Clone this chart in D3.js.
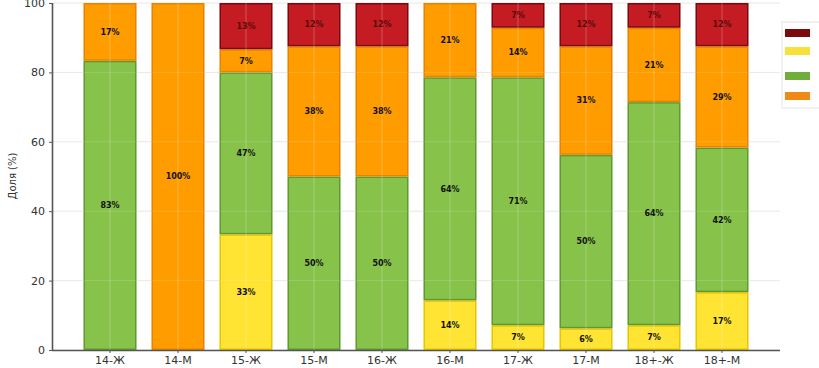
<!DOCTYPE html>
<html><head><meta charset="utf-8">
<script src="https://cdn.jsdelivr.net/npm/d3@7"></script>
<style>html,body{margin:0;padding:0;background:#fff;overflow:hidden}</style>
</head><body><svg id="c" width="819" height="368"></svg>
<script>
const categories = ["14-Ж","14-М","15-Ж","15-М","16-Ж","16-М","17-Ж","17-М","18+-Ж","18+-М"];
const yellowVals = [0, 0, 33.33, 0, 0, 14.29, 7.14, 6.25, 7.14, 16.67];
const greenVals  = [83.33, 0, 46.67, 50, 50, 64.29, 71.43, 50, 64.29, 41.67];
const orangeVals = [16.67, 100, 6.67, 37.5, 37.5, 21.43, 14.29, 31.25, 21.43, 29.17];
const redVals    = [0, 0, 13.33, 12.5, 12.5, 0, 7.14, 12.5, 7.14, 12.5];
const yTicks = [0, 20, 40, 60, 80, 100];
const yTitle = "Доля (%)";

const seriesDefs = [
  {key:"yellow", vals:yellowVals, fill:"#ffe433", edge:"#e8c400", text:"#111"},
  {key:"green",  vals:greenVals,  fill:"#87c24b", edge:"#5f9a2e", text:"#111"},
  {key:"orange", vals:orangeVals, fill:"#ff9c00", edge:"#e88200", text:"#111"},
  {key:"red",    vals:redVals,    fill:"#c41c22", edge:"#7a0a0c", text:"#5a0a0a"}
];
const legendColors = ["#7a0a0c", "#f6e03a", "#6fae3c", "#f08a14"];

const svg = d3.select("#c");
const x = d3.scaleBand().domain(categories).range([52, 780]).paddingInner(0.22).paddingOuter(0.463);
const y = d3.scaleLinear().domain([0, 100]).range([350, 3]);

function fmt(v){
  const f = Math.floor(v);
  let r;
  if (Math.abs(v - f - 0.5) < 1e-9) r = (f % 2 === 0) ? f : f + 1; else r = Math.round(v);
  return r + "%";
}

// horizontal grid
svg.append("g").selectAll("line").data(yTicks).join("line")
  .attr("x1", 52).attr("x2", 780).attr("y1", d=>y(d)).attr("y2", d=>y(d))
  .attr("stroke", "#e6e6e6").attr("stroke-width", 1);

// stacked bars
const rows = categories.map((c,i)=>{ const o={cat:c}; seriesDefs.forEach(s=>o[s.key]=s.vals[i]); return o; });
const stack = d3.stack().keys(seriesDefs.map(s=>s.key))(rows);
stack.forEach((layer, li)=>{
  const s = seriesDefs[li];
  const g = svg.append("g");
  layer.forEach(seg=>{
    const v = seg[1]-seg[0];
    if (v <= 0) return;
    g.append("rect")
      .attr("x", x(seg.data.cat)+0.75).attr("width", x.bandwidth()-1.5)
      .attr("y", y(seg[1])+0.75).attr("height", y(seg[0])-y(seg[1])-1.5)
      .attr("fill", s.fill).attr("stroke", s.edge).attr("stroke-width", 1.5);
  });
});

// vertical grid faint over bars
svg.append("g").selectAll("line").data(categories).join("line")
  .attr("x1", d=>x(d)+x.bandwidth()/2).attr("x2", d=>x(d)+x.bandwidth()/2)
  .attr("y1", 3).attr("y2", 350)
  .attr("stroke", "#ffffff").attr("stroke-opacity", 0.25).attr("stroke-width", 1);
svg.append("g").selectAll("line").data(yTicks.slice(1,5)).join("line")
  .attr("x1", 52).attr("x2", 780).attr("y1", d=>y(d)).attr("y2", d=>y(d))
  .attr("stroke", "#ffffff").attr("stroke-opacity", 0.15).attr("stroke-width", 1);

// labels
stack.forEach((layer, li)=>{
  const s = seriesDefs[li];
  layer.forEach(seg=>{
    const v = seg[1]-seg[0];
    if (v <= 0) return;
    svg.append("text")
      .attr("x", x(seg.data.cat)+x.bandwidth()/2)
      .attr("y", (y(seg[0])+y(seg[1]))/2)
      .attr("dy", "0.35em").attr("text-anchor", "middle")
      .attr("font-family", "DejaVu Sans").attr("font-weight", "bold").attr("font-size", 8)
      .attr("fill", s.text).text(fmt(v));
  });
});

// axes
const yAxis = svg.append("g").attr("transform","translate(52,0)")
  .call(d3.axisLeft(y).tickValues(yTicks).tickSize(3).tickPadding(4));
const xAxis = svg.append("g").attr("transform","translate(0,350)")
  .call(d3.axisBottom(x).tickSize(3).tickPadding(3));
[yAxis, xAxis].forEach(a=>{
  a.select(".domain").attr("stroke","#555").attr("stroke-width",1.6);
  a.selectAll(".tick line").attr("stroke","#555");
  a.selectAll(".tick text").attr("font-family","DejaVu Sans").attr("font-size",11).attr("fill","#333");
});
xAxis.select(".domain").attr("d","M52,0.5H780");
yAxis.select(".domain").attr("d","M0.5,3V350");

svg.append("text").attr("transform","translate(16,176) rotate(-90)")
  .attr("text-anchor","middle").attr("font-family","DejaVu Sans").attr("font-size",10)
  .attr("fill","#333").text(yTitle);

// legend
svg.append("rect").attr("x",782).attr("y",22).attr("width",50).attr("height",86)
  .attr("fill","#fff").attr("stroke","#e4e4e4");
svg.append("g").selectAll("rect").data(legendColors).join("rect")
  .attr("x", 785).attr("width", 25).attr("height", 8)
  .attr("y", (d,i)=>[29,47,72,92][i])
  .attr("fill", d=>d);
</script></body></html>
